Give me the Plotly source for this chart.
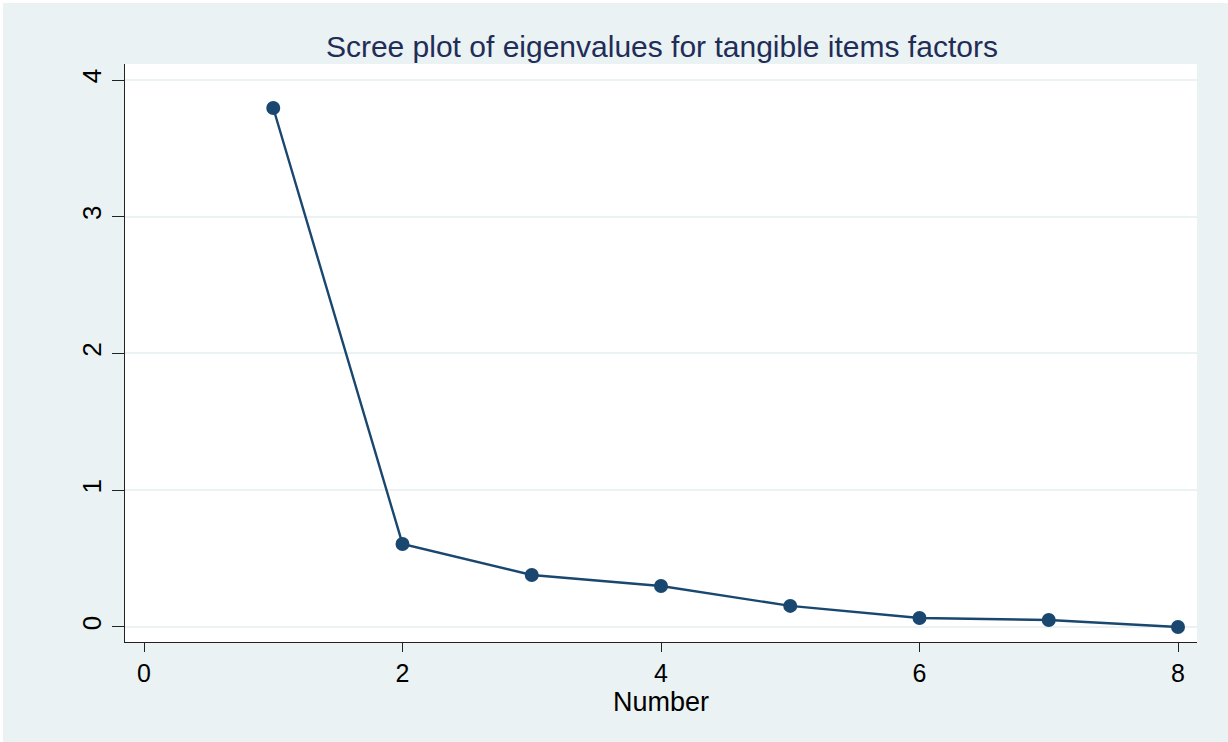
import plotly.graph_objects as go

# Eigenvalues of the tangible-items factor analysis
factor_number = [1, 2, 3, 4, 5, 6, 7, 8]
eigenvalues = [3.795, 0.607, 0.38, 0.30, 0.154, 0.066, 0.051, 0.0]

x_ticks = [0, 2, 4, 6, 8]
y_ticks = [0, 1, 2, 3, 4]

NAVY = "#1A476F"
BG = "#EAF2F3"
FONT = "Liberation Sans, Arial, sans-serif"

fig = go.Figure()
fig.add_trace(go.Scatter(
    x=factor_number,
    y=eigenvalues,
    mode="lines+markers",
    line=dict(color=NAVY, width=2.4),
    marker=dict(color=NAVY, size=14),
    showlegend=False,
    hoverinfo="x+y",
))

fig.update_layout(
    width=1228,
    height=742,
    margin=dict(l=125, r=31, t=64, b=100),
    paper_bgcolor=BG,
    plot_bgcolor="white",
    font=dict(family=FONT, color="black"),
    title=dict(
        text="Scree plot of eigenvalues for tangible items factors",
        x=0.539, xanchor="center",
        y=1 - 46 / 742, yanchor="middle",
        font=dict(size=30, color="#1F2D57", family=FONT),
    ),
    xaxis=dict(
        range=[-0.147, 8.147],
        tickvals=x_ticks,
        ticks="outside", ticklen=9, tickwidth=1.2, tickcolor="#222",
        tickfont=dict(size=25),
        showgrid=False, zeroline=False,
        showline=True, linecolor="#222", linewidth=1.3,
    ),
    yaxis=dict(
        range=[-0.11, 4.117],
        tickvals=y_ticks,
        tickangle=-90,
        ticks="outside", ticklen=12, tickwidth=1.2, tickcolor="#222",
        tickfont=dict(size=26),
        showgrid=True, gridcolor=BG, gridwidth=2,
        zeroline=False,
        showline=True, linecolor="#222", linewidth=1.3,
    ),
    annotations=[
        # x-axis title, sitting just under the tick labels
        dict(text="Number", xref="paper", yref="paper",
             x=0.5, xanchor="center", y=(642 - 702) / 578, yanchor="middle",
             showarrow=False, font=dict(size=27, color="black", family=FONT)),
    ],
    shapes=[
        # thin white frame along the top and left edges of the page
        dict(type="rect", xref="paper", yref="paper", layer="below",
             x0=-0.2, x1=1.1, y0=(642 - 3) / 578, y1=1.2,
             fillcolor="white", line=dict(width=0)),
        dict(type="rect", xref="paper", yref="paper", layer="below",
             x0=-0.2, x1=(3 - 125) / 1072, y0=-0.3, y1=1.2,
             fillcolor="white", line=dict(width=0)),
    ],
)

fig.write_html("out.html")
